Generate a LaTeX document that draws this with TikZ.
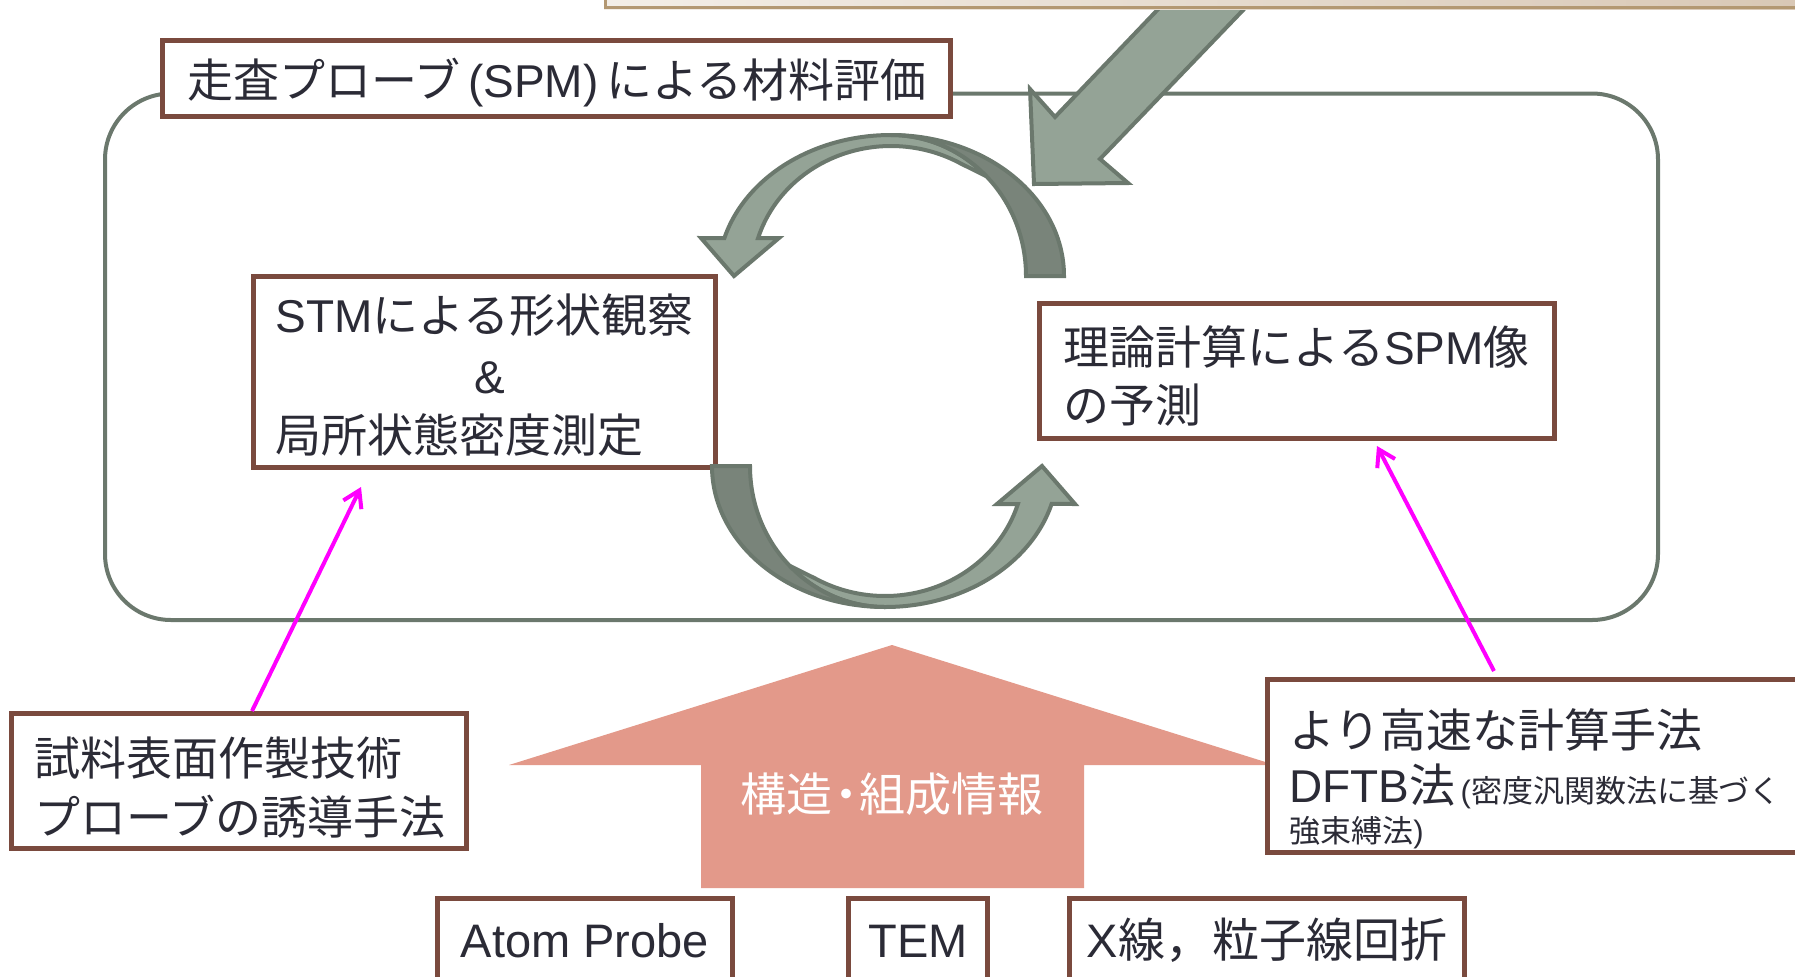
\documentclass[tikz,border=0pt]{standalone}
\usepackage{fontspec}
\setmainfont{Noto Sans CJK JP}
\newfontfamily\lat{Liberation Sans}
\usetikzlibrary{arrows.meta,fit}
\definecolor{brownb}{HTML}{7A4A3E}
\definecolor{grayb}{HTML}{6B786D}
\definecolor{darkf}{HTML}{79847A}
\definecolor{lightf}{HTML}{94A396}
\definecolor{pinkf}{HTML}{E3998A}
\definecolor{txt}{HTML}{2B2B36}
\definecolor{tanb}{HTML}{B39872}
\definecolor{begL}{HTML}{F3EEE7}
\definecolor{begR}{HTML}{D8C7B4}
\definecolor{mgt}{HTML}{FF00FF}
\begin{document}
\begin{tikzpicture}[x=0.5pt,y=-0.5pt,
  pb/.style={draw=brownb, line width=2.5pt, fill=white, inner sep=0pt},
  tx/.style={text=txt, inner sep=0pt, anchor=base west, font=\fontsize{23}{28}\selectfont},
  txc/.style={tx, anchor=base},
  btx/.style={txc, font=\fontsize{23.5}{28}\selectfont},
  mag/.style={draw=mgt, line width=2pt, -{Straight Barb[length=8pt,width=10pt]}},
  cyc/.style={draw=grayb, line width=2pt, line join=miter},
]
\useasboundingbox (0,0) rectangle (1795,976);
% pink up arrow
\fill[pinkf] (892,645) -- (1275,765) -- (1084,765) -- (1084,888) -- (701,888) -- (701,765) -- (509,765) -- cycle;
\node[text=white, inner sep=0pt, anchor=base, font=\fontsize{23}{27}\selectfont] (info) at (892,811) {構造\hspace{-0.2em}・\hspace{-0.2em}組成情報};
% rounded frame
\draw[grayb, line width=2pt, rounded corners=33pt] (105,93.5) rectangle (1658,620);
% diagonal gray arrow
\draw[fill=lightf, draw=grayb, line width=2pt, line join=miter] (1186,-20) -- (1055,117) -- (1030,89) -- (1034,184) -- (1128,183) -- (1100,159) -- (1272,-20) -- cycle;
% top partial box
\shade[left color=begL, right color=begR] (604,-20) rectangle (1830,9);
\draw[tanb, line width=1.5pt] (605.5,-20) -- (605.5,7.5) -- (1830,7.5);
% boxes
\node[pb, fit={(162.5,40.5) (950.5,116.5)}] (title) {};
\node[tx] (titlet) at (187,97) {走査プローブ{\lat\,(SPM)\,}による材料評価};
\node[pb, fit={(253.5,276.5) (715.5,467.5)}] (stm) {};
\node[tx] (stm1) at (275,332.5) {{\lat STM}による形状観察};
\node[txc] (stm2) at (490,393) {{\lat \&}};
\node[tx] (stm3) at (275,452.5) {局所状態密度測定};
\node[pb, fit={(1039.5,303.5) (1554.5,438.5)}] (riron) {};
\node[tx] (riron1) at (1063,364.5) {理論計算による{\lat SPM}像};
\node[tx] (riron2) at (1063,422.5) {の予測};
\node[pb, fit={(11.5,713.5) (466.5,848.5)}] (shiryo) {};
\node[tx] (shiryo1) at (34,775.5) {試料表面作製技術};
\node[tx] (shiryo2) at (34,834.5) {プローブの誘導手法};
\node[pb, fit={(1267.5,679.5) (1830,852.5)}] (dftb) {};
\node[tx] (dftb1) at (1289,747.5) {より高速な計算手法};
\node[tx] (dftb2) at (1289,802.5) {{\lat DFTB}法{\fontsize{15.5}{18}\selectfont{\lat\,(}密度汎関数法に基づく}};
\node[tx] (dftb3) at (1289,842) {\fontsize{15.5}{18}\selectfont 強束縛法{\lat )}};
\node[pb, fit={(437.5,898.5) (732.5,1010)}] (atom) {};
\node[btx] (atomt) at (585,957) {{\lat Atom Probe}};
\node[pb, fit={(848.5,898.5) (987.5,1010)}] (tem) {};
\node[btx] (temt) at (918,957) {{\lat TEM}};
\node[pb, fit={(1069.5,898.5) (1464.5,1010)}] (xray) {};
\node[btx] (xrayt) at (1267,957) {{\lat X}線，粒子線回折};
% cycle arrows
\begin{scope}[shift={(891,276)}]
\filldraw[cyc, fill=lightf] (0,-141) arc[start angle=-90, end angle=-164.4, x radius=173, y radius=141] -- (-190,-38) -- (-157,0) -- (-112,-38) -- (-132.9,-38) arc[start angle=-163, end angle=-60, x radius=139, y radius=130] -- (95.5,-99.7) arc[start angle=-45, end angle=-90, x radius=135, y radius=141] -- cycle;
\filldraw[cyc, fill=darkf] (173,0) arc[start angle=0, end angle=-90, x radius=173, y radius=141] arc[start angle=-90, end angle=0, x radius=135, y radius=141] -- cycle;
\end{scope}
\begin{scope}[shift={(885,466)}]
\filldraw[cyc, fill=lightf] (0,141) arc[start angle=90, end angle=15.6, x radius=173, y radius=141] -- (190,38) -- (157,0) -- (112,38) -- (132.9,38) arc[start angle=17, end angle=120, x radius=139, y radius=130] -- (-95.5,99.7) arc[start angle=135, end angle=90, x radius=135, y radius=141] -- cycle;
\filldraw[cyc, fill=darkf] (-173,0) arc[start angle=180, end angle=90, x radius=173, y radius=141] arc[start angle=90, end angle=180, x radius=135, y radius=141] -- cycle;
\end{scope}
% magenta arrows
\coordinate (mLs) at (252,711);
\coordinate (mLe) at (361,487);
\coordinate (mRs) at (1494,671);
\coordinate (mRe) at (1377,446);
\draw[mag] (mLs) -- (mLe);
\draw[mag] (mRs) -- (mRe);
\end{tikzpicture}
\end{document}
